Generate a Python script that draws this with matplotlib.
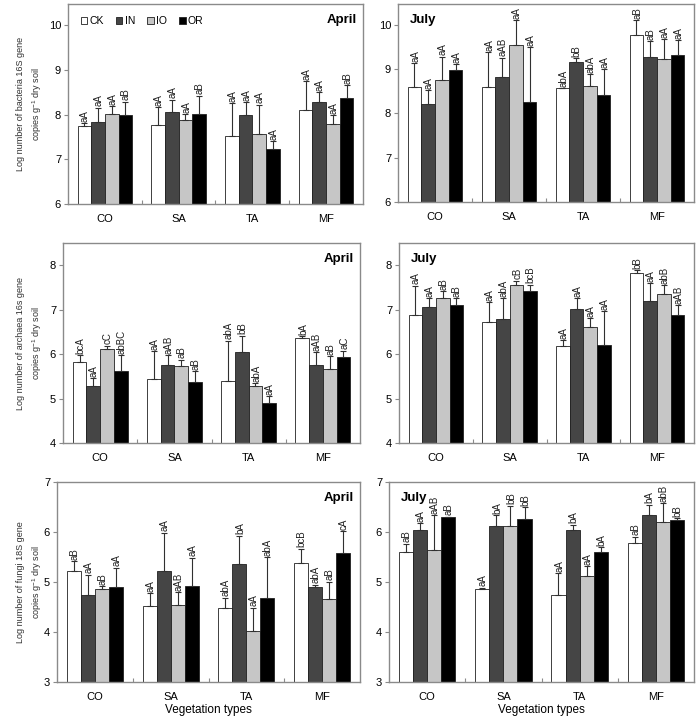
import numpy as np
import matplotlib
matplotlib.use('Agg')
import matplotlib.pyplot as plt
from matplotlib.patches import Patch

plt.rcParams['font.family'] = ['Liberation Sans', 'DejaVu Sans']
plt.rcParams['mathtext.fontset'] = 'custom'
plt.rcParams['mathtext.rm'] = 'Liberation Sans'

groups = ['CO', 'SA', 'TA', 'MF']
treatments = ['CK', 'IN', 'IO', 'OR']

# means / SE, rows = vegetation type, columns = treatment
bac_apr_mean = [[7.74, 7.84, 8.02, 7.98], [7.76, 8.05, 7.87, 8.02],
                [7.53, 7.99, 7.56, 7.24], [8.09, 8.29, 7.79, 8.38]]
bac_apr_err = [[0.07, 0.31, 0.17, 0.31], [0.41, 0.28, 0.14, 0.40],
               [0.72, 0.28, 0.66, 0.16], [0.66, 0.21, 0.20, 0.27]]
bac_apr_lab = [['aA', 'aA', 'aA', 'aB'], ['aA', 'aA', 'aA', 'aB'],
               ['aA', 'aA', 'aA', 'aA'], ['aA', 'aA', 'aA', 'aB']]

bac_jul_mean = [[8.60, 8.21, 8.75, 8.97], [8.60, 8.82, 9.55, 8.25],
                [8.57, 9.16, 8.63, 8.42], [9.77, 9.27, 9.23, 9.32]]
bac_jul_err = [[0.53, 0.31, 0.53, 0.14], [0.78, 0.44, 0.56, 1.24],
               [0.0, 0.09, 0.25, 0.58], [0.34, 0.36, 0.45, 0.33]]
bac_jul_lab = [['aA', 'aA', 'aA', 'aA'], ['aA', 'aAB', 'aA', 'aA'],
               ['abA', 'bB', 'abA', 'aA'], ['aB', 'aB', 'aA', 'aA']]

arc_apr_mean = [[5.82, 5.29, 6.11, 5.62], [5.44, 5.75, 5.74, 5.37],
                [5.39, 6.05, 5.28, 4.89], [6.36, 5.75, 5.66, 5.94]]
arc_apr_err = [[0.15, 0.17, 0.08, 0.35], [0.62, 0.22, 0.13, 0.25],
               [0.91, 0.36, 0.07, 0.16], [0.04, 0.29, 0.29, 0.14]]
arc_apr_lab = [['bcA', 'aA', 'cC', 'abBC'], ['aA', 'aAB', 'aB', 'aB'],
               ['abA', 'bB', 'abA', 'aA'], ['bA', 'aAB', 'aB', 'aC']]

arc_jul_mean = [[6.87, 7.07, 7.26, 7.10], [6.73, 6.80, 7.56, 7.43],
                [6.19, 7.01, 6.62, 6.21], [7.82, 7.19, 7.35, 6.87]]
arc_jul_err = [[0.67, 0.19, 0.15, 0.16], [0.44, 0.46, 0.09, 0.13],
               [0.12, 0.25, 0.19, 0.75], [0.07, 0.40, 0.20, 0.23]]
arc_jul_lab = [['aA', 'aA', 'aB', 'aB'], ['aA', 'abA', 'cB', 'bcB'],
               ['aA', 'aA', 'aA', 'aA'], ['bB', 'aA', 'abB', 'aAB']]

fun_apr_mean = [[5.22, 4.74, 4.87, 4.90], [4.52, 5.22, 4.55, 4.92],
                [4.49, 5.36, 4.03, 4.69], [5.38, 4.90, 4.66, 5.58]]
fun_apr_err = [[0.20, 0.41, 0.05, 0.39], [0.26, 0.77, 0.25, 0.57],
               [0.20, 0.57, 0.46, 0.81], [0.29, 0.05, 0.35, 0.44]]
fun_apr_lab = [['aB', 'aA', 'aB', 'aA'], ['aA', 'aA', 'aAB', 'aA'],
               ['abA', 'bA', 'aA', 'abA'], ['bcB', 'abA', 'aB', 'cA']]

fun_jul_mean = [[5.61, 6.05, 5.65, 6.30], [4.87, 6.13, 6.13, 6.27],
                [4.75, 6.04, 5.13, 5.61], [5.78, 6.35, 6.21, 6.24]]
fun_jul_err = [[0.16, 0.13, 0.69, 0.01], [0.02, 0.21, 0.40, 0.23],
               [0.43, 0.11, 0.19, 0.09], [0.13, 0.20, 0.37, 0.04]]
fun_jul_lab = [['aB', 'aA', 'aAB', 'aB'], ['aA', 'bA', 'bB', 'bB'],
               ['aA', 'bA', 'aA', 'bA'], ['aB', 'bA', 'abB', 'bB']]

ylabels = ['Log number of bacteria 16S gene\ncopies g$^{-1}$ dry soil',
           'Log number of archaea 16s gene\ncopies g$^{-1}$ dry soil',
           'Log number of fungi 18S gene\ncopies g$^{-1}$ dry soil']

colors = ['white', '#454545', '#c6c6c6', 'black']
W, H = 697, 724
SPINE = '#8a8a8a'


def px_box(l, t, r, b):
    return [l / W, 1 - b / H, (r - l) / W, (b - t) / H]


def draw_panel(ax, mean, err, lab, ylim, month, legend=False):
    x = np.arange(len(groups))
    width = 0.185
    for i, t in enumerate(treatments):
        xs = x + (i - 1.5) * width
        m = [row[i] for row in mean]
        e = [row[i] for row in err]
        ax.bar(xs, m, width, color=colors[i], edgecolor='#202020',
               linewidth=0.6, zorder=2)
        ax.errorbar(xs, m, yerr=[np.zeros(4), e], fmt='none',
                    ecolor='#303030', elinewidth=0.8, capsize=2.5,
                    capthick=0.8, zorder=3)
        for xi, mi, ei, li in zip(xs, m, e, [row[i] for row in lab]):
            ax.annotate(li, (xi, mi + ei), xytext=(0.5, 1),
                        textcoords='offset points', rotation=90,
                        ha='center', va='bottom', fontsize=7,
                        color='#202020', annotation_clip=False)
    ax.set_xlim(-0.5, 3.5)
    ax.set_ylim(*ylim)
    ax.set_yticks(np.arange(int(ylim[0]), int(ylim[1]) + 1))
    ax.set_xticks([0.5, 1.5, 2.5])
    ax.set_xticklabels([])
    ax.set_xticks(x, minor=True)
    ax.set_xticklabels(groups, minor=True)
    ax.tick_params(axis='x', which='major', direction='in', length=3,
                   color=SPINE)
    ax.tick_params(axis='x', which='minor', length=0, pad=7, labelsize=8)
    ax.tick_params(axis='y', direction='out', length=3, color=SPINE,
                   pad=2, labelsize=8)
    for s in ax.spines.values():
        s.set_color(SPINE)
        s.set_linewidth(1.0)
    if month == 'April':
        ax.text(0.98, 0.95, month, transform=ax.transAxes, ha='right',
                va='top', fontsize=9.5, fontweight='bold')
    else:
        ax.text(0.04, 0.95, month, transform=ax.transAxes, ha='left',
                va='top', fontsize=9.5, fontweight='bold')
    if legend:
        handles = [Patch(facecolor=c, edgecolor='#202020', linewidth=0.6)
                   for c in colors]
        ax.legend(handles, treatments, loc='upper left', ncol=4,
                  frameon=False, fontsize=7.5, handlelength=0.6,
                  handleheight=0.6, handletextpad=0.2, columnspacing=1.2,
                  bbox_to_anchor=(0.03, 0.96), borderaxespad=0)


fig = plt.figure(figsize=(W / 100, H / 100), dpi=100)

panels = [
    ((68, 4, 363, 204), bac_apr_mean, bac_apr_err, bac_apr_lab, (6, 10.47), 'April', True),
    ((398, 4, 694, 202), bac_jul_mean, bac_jul_err, bac_jul_lab, (6, 10.47), 'July', False),
    ((63, 243, 360, 443), arc_apr_mean, arc_apr_err, arc_apr_lab, (4, 8.5), 'April', False),
    ((399, 243, 694, 443), arc_jul_mean, arc_jul_err, arc_jul_lab, (4, 8.5), 'July', False),
    ((57, 482, 360, 682), fun_apr_mean, fun_apr_err, fun_apr_lab, (3, 7), 'April', False),
    ((389, 482, 694, 682), fun_jul_mean, fun_jul_err, fun_jul_lab, (3, 7), 'July', False),
]

for k, (box, mean, err, lab, ylim, month, leg) in enumerate(panels):
    ax = fig.add_axes(px_box(*box))
    draw_panel(ax, mean, err, lab, ylim, month, legend=leg)
    if k % 2 == 0:
        yc = (box[1] + box[3]) / 2
        fig.text(30 / W, 1 - yc / H, ylabels[k // 2], rotation=90,
                 ha='center', va='center', fontsize=6.5, color='#303030',
                 multialignment='center', linespacing=1.5)
    if k >= 4:
        xc = (box[0] + box[2]) / 2
        fig.text(xc / W, 1 - 710 / H, 'Vegetation types', ha='center',
                 va='center', fontsize=8.5)

fig.savefig('out.png', dpi=100)
plt.close(fig)
